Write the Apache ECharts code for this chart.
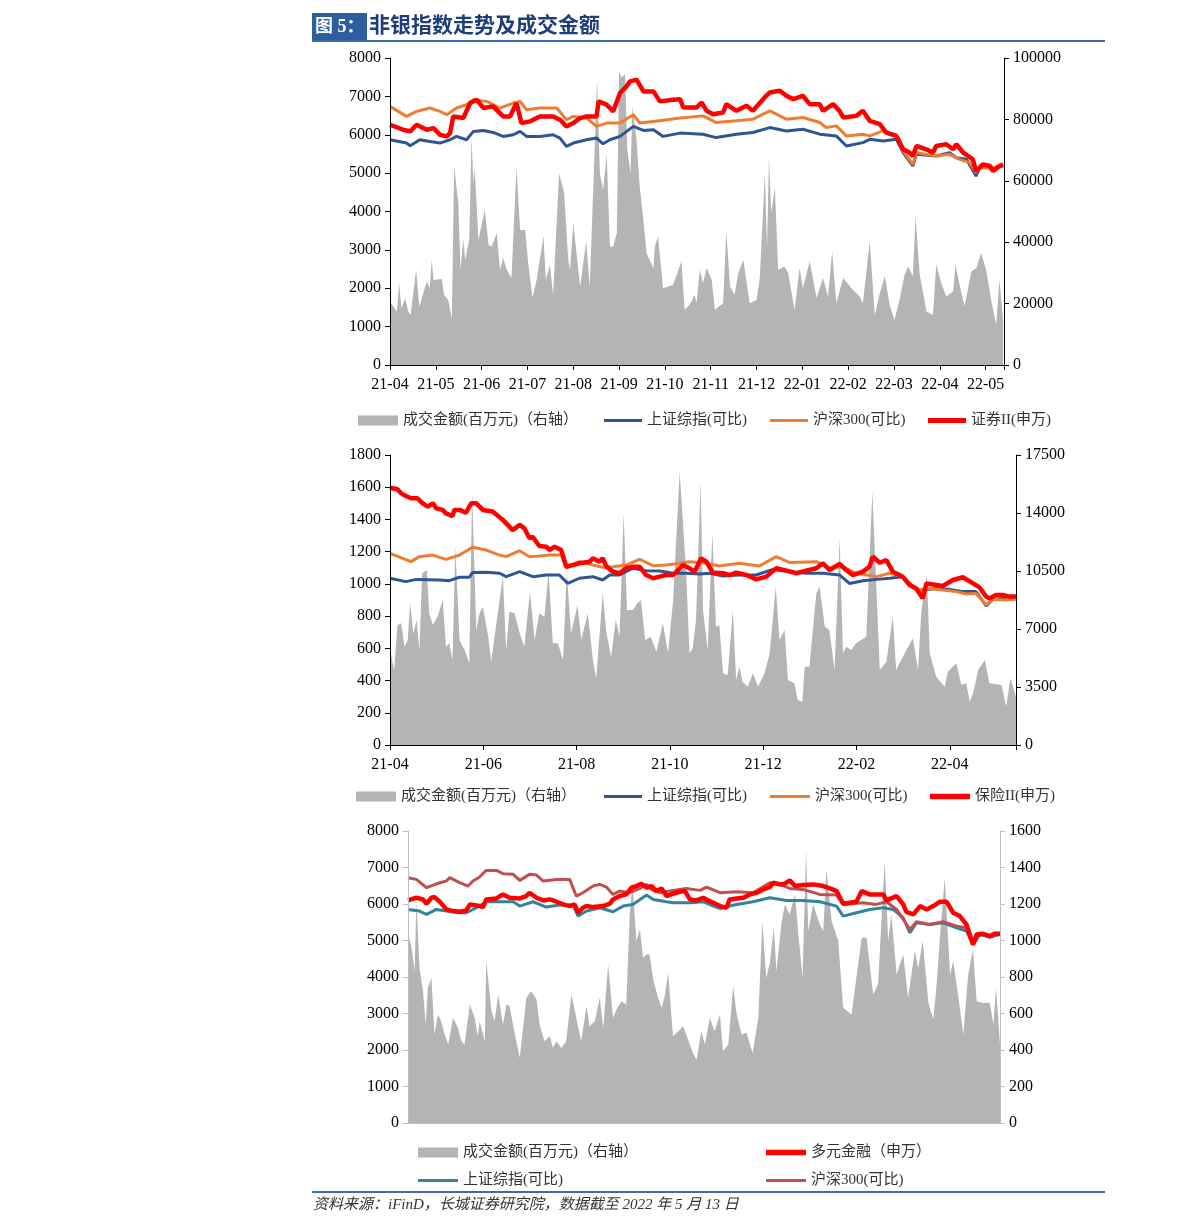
<!DOCTYPE html>
<html><head><meta charset="utf-8">
<script src="https://cdn.jsdelivr.net/npm/echarts@6/dist/echarts.min.js"></script>
<style>html,body{margin:0;padding:0;background:#fff}#c{width:1191px;height:1232px}</style>
</head><body><div id="c"></div>
<script>
// ---- tick labels (x = months since 2021-04-01) ----
const p1MonthLabels = ['21-04','21-05','21-06','21-07','21-08','21-09','21-10','21-11','21-12','22-01','22-02','22-03','22-04','22-05'];
const p2MonthLabels = ['21-04','21-06','21-08','21-10','21-12','22-02','22-04'];

// ---- Panel 1: 证券II ----
const p1Volume = [[0,20650],[0.15,17400],[0.2,26600],[0.25,18500],[0.33,21700],[0.4,17400],[0.45,16300],[0.57,31000],[0.64,19000],[0.8,27200],[0.87,25000],[0.91,34200],[0.95,27700],[1.13,28000],[1.18,22800],[1.27,21200],[1.35,15200],[1.4,64700],[1.49,52800],[1.54,31000],[1.6,41000],[1.64,34200],[1.73,40800],[1.78,74500],[1.82,59200],[1.85,64100],[1.93,40800],[2.07,50500],[2.15,39100],[2.22,38600],[2.33,42900],[2.4,31000],[2.47,34800],[2.55,31000],[2.65,28300],[2.76,64100],[2.84,44000],[2.95,44000],[3.02,32600],[3.11,22000],[3.2,27700],[3.35,42000],[3.4,27700],[3.49,32600],[3.56,22800],[3.69,62500],[3.8,56000],[3.89,34200],[3.93,31000],[4.0,46200],[4.09,33700],[4.15,25500],[4.28,40200],[4.36,25500],[4.52,92900],[4.58,62500],[4.65,57100],[4.73,68500],[4.8,38600],[4.87,38600],[4.95,42900],[5.0,95700],[5.05,93700],[5.13,94600],[5.18,70100],[5.25,62500],[5.29,84200],[5.38,73400],[5.45,58100],[5.53,47300],[5.6,36400],[5.75,31500],[5.78,38600],[5.85,41800],[5.89,41800],[5.96,25000],[6.18,26100],[6.36,33800],[6.43,18000],[6.54,19600],[6.65,22900],[6.69,20100],[6.76,31000],[6.83,26700],[6.91,31600],[7.02,27800],[7.09,18000],[7.27,20100],[7.34,43600],[7.42,25600],[7.52,22900],[7.6,29900],[7.71,34300],[7.85,20100],[8.0,21200],[8.07,28300],[8.18,62100],[8.23,38600],[8.27,67500],[8.32,49600],[8.4,57700],[8.47,31000],[8.61,32100],[8.69,30000],[8.83,18000],[8.94,31600],[9.01,25000],[9.16,33800],[9.31,21800],[9.45,28300],[9.56,22300],[9.65,37000],[9.74,20100],[9.89,28300],[10.07,25000],[10.25,22300],[10.32,20100],[10.47,40300],[10.58,16300],[10.69,23400],[10.8,28900],[10.91,19100],[11.01,14700],[11.12,21200],[11.23,29400],[11.31,32100],[11.41,28900],[11.47,48500],[11.56,29400],[11.71,17400],[11.85,16300],[11.92,32700],[12.03,26700],[12.14,22300],[12.29,24000],[12.34,32700],[12.43,26100],[12.54,19100],[12.69,30500],[12.8,31600],[12.9,36500],[13.01,31000],[13.12,21200],[13.23,13000],[13.3,27800],[13.38,14700]];
const p1SSE = [[0,5870],[0.36,5783],[0.44,5713],[0.65,5870],[0.87,5826],[1.09,5783],[1.31,5870],[1.45,5957],[1.67,5870],[1.82,6087],[2.04,6113],[2.25,6061],[2.47,5957],[2.69,6000],[2.84,6087],[2.98,5957],[3.27,5957],[3.56,6000],[3.71,5913],[3.85,5696],[4.0,5783],[4.29,5870],[4.51,5913],[4.65,5765],[4.8,5870],[5.02,5957],[5.31,6218],[5.53,6113],[5.75,6130],[5.96,5957],[6.33,6043],[6.83,6015],[7.12,5926],[7.56,6015],[7.92,6057],[8.29,6187],[8.65,6100],[9.01,6143],[9.38,6015],[9.74,5970],[9.96,5708],[10.32,5795],[10.47,5882],[10.76,5840],[11.05,5882],[11.2,5534],[11.41,5186],[11.49,5490],[11.92,5447],[12.21,5534],[12.36,5403],[12.58,5360],[12.79,4924],[12.87,5142],[13.16,5142],[13.38,5186]];
const p1CSI300 = [[0,6739],[0.36,6478],[0.58,6609],[0.87,6696],[1.09,6609],[1.24,6522],[1.45,6696],[1.67,6783],[1.82,6913],[2.11,6870],[2.4,6696],[2.69,6826],[2.84,6870],[2.98,6652],[3.27,6696],[3.64,6696],[3.85,6391],[4.0,6478],[4.29,6435],[4.51,6217],[4.73,6304],[5.02,6304],[5.31,6522],[5.45,6304],[5.75,6348],[6.04,6391],[6.33,6435],[6.83,6492],[7.12,6318],[7.56,6362],[7.92,6405],[8.29,6623],[8.65,6405],[9.01,6449],[9.38,6318],[9.52,6187],[9.74,6231],[9.96,5970],[10.32,6014],[10.47,5970],[10.76,6100],[11.05,5970],[11.2,5578],[11.41,5229],[11.49,5534],[11.92,5447],[12.21,5490],[12.43,5360],[12.65,5273],[12.79,5011],[12.87,5142],[13.16,5142],[13.38,5186]];
const p1Broker = [[0,6261],[0.29,6130],[0.44,6087],[0.58,6261],[0.8,6130],[0.95,6174],[1.09,6000],[1.24,5957],[1.31,6043],[1.38,6478],[1.6,6435],[1.75,6826],[1.89,6913],[2.04,6696],[2.25,6739],[2.47,6478],[2.62,6478],[2.76,6826],[2.87,6304],[3.05,6348],[3.27,6478],[3.56,6478],[3.71,6391],[3.85,6217],[4.0,6304],[4.15,6435],[4.29,6478],[4.51,6478],[4.55,6870],[4.73,6783],[4.87,6609],[5.02,7087],[5.16,7261],[5.24,7391],[5.38,7435],[5.53,7130],[5.75,7130],[5.89,6870],[6.18,6913],[6.33,6928],[6.4,6710],[6.69,6710],[6.8,6841],[6.91,6623],[7.05,6536],[7.27,6580],[7.34,6797],[7.56,6623],[7.78,6754],[7.92,6623],[8.21,7015],[8.29,7102],[8.51,7146],[8.65,7015],[8.8,6928],[9.01,7015],[9.16,6797],[9.38,6797],[9.45,6623],[9.67,6797],[9.81,6623],[9.89,6449],[10.18,6492],[10.32,6623],[10.47,6362],[10.69,6275],[10.83,6057],[11.05,5970],[11.2,5621],[11.34,5534],[11.41,5447],[11.49,5708],[11.7,5621],[11.85,5534],[11.92,5708],[12.14,5752],[12.29,5621],[12.36,5752],[12.51,5534],[12.72,5360],[12.79,5054],[12.94,5229],[13.09,5186],[13.16,5054],[13.3,5186],[13.38,5229]];

// ---- Panel 2: 保险II ----
const p2Volume = [[0,5731],[0.09,4525],[0.16,7240],[0.24,7340],[0.31,5932],[0.38,6335],[0.43,8547],[0.5,6737],[0.57,7541],[0.63,5731],[0.69,10357],[0.79,10558],[0.84,7943],[0.92,7240],[1.02,7742],[1.13,8748],[1.2,5932],[1.27,6134],[1.34,5128],[1.4,11965],[1.49,6335],[1.6,5731],[1.7,4927],[1.76,15284],[1.85,6938],[1.92,7943],[1.99,8346],[2.1,6636],[2.17,5028],[2.27,7139],[2.42,10156],[2.49,5731],[2.56,8044],[2.67,7943],[2.78,6737],[2.88,5932],[3.0,9251],[3.1,6335],[3.2,7943],[3.31,7742],[3.4,10457],[3.49,6134],[3.6,6134],[3.71,5128],[3.79,10457],[3.88,6737],[4.02,8446],[4.1,6335],[4.24,7943],[4.35,5128],[4.42,4022],[4.56,9150],[4.64,6737],[4.74,5329],[4.84,7541],[4.92,6536],[5.01,13976],[5.08,8145],[5.21,8145],[5.3,8547],[5.38,8748],[5.47,6335],[5.59,6536],[5.71,5631],[5.85,7340],[5.96,5530],[6.07,8748],[6.21,16490],[6.35,10357],[6.42,5530],[6.49,5832],[6.56,7541],[6.66,15887],[6.71,8145],[6.81,5731],[6.91,12770],[6.99,7139],[7.06,7240],[7.14,4324],[7.24,4223],[7.35,8145],[7.42,3921],[7.49,4726],[7.56,3821],[7.67,3519],[7.78,4324],[7.89,3519],[8.03,4324],[8.14,5530],[8.27,9552],[8.35,6335],[8.46,6938],[8.53,3921],[8.67,3720],[8.74,2715],[8.84,2614],[8.89,4726],[8.99,4726],[9.14,9150],[9.21,9552],[9.32,7139],[9.42,6938],[9.53,4525],[9.64,12468],[9.71,5530],[9.78,5932],[9.89,5731],[9.99,6134],[10.21,6536],[10.34,15284],[10.5,4525],[10.64,5028],[10.78,7783],[10.85,4525],[10.96,5128],[11.07,5731],[11.21,6435],[11.32,4525],[11.39,8044],[11.51,10256],[11.57,5530],[11.71,4123],[11.89,3519],[11.96,4424],[12.14,4927],[12.25,3620],[12.35,3720],[12.43,2614],[12.5,3117],[12.61,4525],[12.75,5128],[12.85,3720],[13.11,3620],[13.21,2313],[13.3,4022],[13.42,2916]];
const p2SSE = [[0,1035],[0.34,1014],[0.56,1028],[1.06,1024],[1.27,1020],[1.49,1041],[1.7,1041],[1.77,1070],[2.06,1072],[2.35,1066],[2.49,1045],[2.78,1076],[3.06,1045],[3.35,1055],[3.63,1055],[3.81,1003],[4.06,1035],[4.35,1045],[4.56,1024],[4.71,1055],[4.92,1055],[5.21,1097],[5.49,1082],[5.78,1080],[6.07,1066],[6.35,1066],[6.64,1062],[6.85,1066],[7.14,1049],[7.49,1055],[7.85,1055],[8.21,1090],[8.57,1076],[8.92,1066],[9.28,1066],[9.64,1055],[9.85,1003],[10.14,1020],[10.43,1028],[10.71,1035],[10.99,1045],[11.28,966],[11.42,962],[11.71,972],[11.99,966],[12.28,952],[12.56,952],[12.78,863],[12.92,904],[13.14,910],[13.42,910]];
const p2CSI300 = [[0,1190],[0.27,1159],[0.45,1138],[0.63,1169],[0.92,1179],[1.2,1152],[1.49,1179],[1.77,1227],[2.06,1210],[2.35,1179],[2.49,1169],[2.78,1206],[2.99,1169],[3.2,1173],[3.42,1179],[3.67,1179],[3.78,1097],[4.06,1138],[4.35,1117],[4.56,1103],[4.78,1107],[5.06,1117],[5.35,1152],[5.64,1113],[5.92,1117],[6.21,1128],[6.42,1138],[6.78,1128],[7.06,1111],[7.49,1128],[7.92,1111],[8.28,1169],[8.57,1132],[9.14,1138],[9.42,1097],[9.71,1107],[9.99,1066],[10.43,1045],[10.71,1066],[10.99,1045],[11.28,962],[11.57,972],[11.85,962],[12.14,952],[12.35,937],[12.56,941],[12.78,869],[12.92,904],[13.14,900],[13.42,904]];
const p2Insurance = [[0,1597],[0.16,1587],[0.24,1562],[0.34,1546],[0.45,1531],[0.59,1531],[0.7,1500],[0.81,1479],[0.92,1500],[0.99,1469],[1.13,1459],[1.2,1438],[1.34,1421],[1.38,1459],[1.49,1459],[1.63,1442],[1.74,1500],[1.85,1500],[1.99,1459],[2.2,1449],[2.42,1397],[2.63,1334],[2.78,1366],[2.88,1345],[2.99,1283],[3.06,1293],[3.2,1235],[3.35,1231],[3.42,1210],[3.53,1231],[3.67,1210],[3.78,1107],[3.92,1117],[4.06,1128],[4.28,1138],[4.35,1159],[4.49,1138],[4.56,1159],[4.64,1107],[4.78,1076],[4.92,1066],[5.06,1097],[5.21,1107],[5.35,1107],[5.49,1055],[5.64,1035],[5.78,1045],[5.92,1055],[6.07,1055],[6.28,1117],[6.42,1097],[6.53,1076],[6.67,1159],[6.78,1138],[6.92,1070],[7.14,1066],[7.28,1055],[7.42,1070],[7.64,1055],[7.85,1028],[8.07,1045],[8.28,1097],[8.5,1082],[8.71,1066],[8.92,1082],[9.14,1097],[9.28,1128],[9.42,1086],[9.64,1124],[9.78,1086],[9.92,1055],[10.14,1076],[10.28,1107],[10.35,1169],[10.5,1131],[10.64,1148],[10.78,1076],[10.99,1045],[11.14,993],[11.28,972],[11.42,910],[11.5,1003],[11.71,993],[11.85,987],[12.07,1024],[12.28,1041],[12.5,1003],[12.64,978],[12.78,921],[12.85,910],[12.99,931],[13.14,931],[13.28,921],[13.42,921]];

// ---- Panel 3: 多元金融 ----
const p3Volume = [[0,1042],[0.08,960],[0.15,832],[0.19,1216],[0.26,850],[0.34,722],[0.4,539],[0.45,741],[0.53,795],[0.6,485],[0.68,594],[0.75,558],[0.83,485],[0.91,430],[1.02,576],[1.13,521],[1.21,448],[1.28,430],[1.4,649],[1.51,576],[1.58,475],[1.62,558],[1.74,448],[1.77,887],[1.89,613],[1.96,558],[2.04,704],[2.15,539],[2.23,649],[2.3,640],[2.42,485],[2.53,357],[2.68,686],[2.79,722],[2.91,677],[2.98,539],[3.09,448],[3.21,475],[3.28,411],[3.36,448],[3.47,411],[3.58,448],[3.7,704],[3.81,576],[3.92,448],[4.04,640],[4.11,530],[4.23,558],[4.34,686],[4.42,521],[4.53,869],[4.64,576],[4.72,622],[4.83,667],[4.94,649],[5.02,1143],[5.08,1317],[5.17,997],[5.25,1061],[5.32,905],[5.4,923],[5.47,923],[5.55,786],[5.66,686],[5.74,631],[5.81,695],[5.89,823],[5.96,594],[6.0,475],[6.23,530],[6.38,430],[6.45,384],[6.53,347],[6.64,503],[6.72,430],[6.83,576],[6.94,503],[7.06,594],[7.13,393],[7.25,430],[7.36,750],[7.44,594],[7.55,485],[7.66,494],[7.8,384],[7.93,576],[8.02,1106],[8.11,795],[8.19,878],[8.28,1070],[8.34,832],[8.45,1088],[8.53,1198],[8.64,1143],[8.76,1253],[8.83,1051],[8.93,795],[9.01,1494],[9.06,1051],[9.17,1198],[9.32,1088],[9.4,1051],[9.47,1390],[9.59,1106],[9.74,997],[9.85,631],[10.04,594],[10.27,1015],[10.38,1015],[10.53,704],[10.64,759],[10.79,1435],[10.87,997],[10.94,1143],[11.06,814],[11.21,923],[11.32,686],[11.47,942],[11.55,850],[11.65,997],[11.78,658],[11.89,567],[11.96,741],[12.04,1015],[12.15,1344],[12.27,814],[12.34,887],[12.45,704],[12.57,485],[12.68,814],[12.79,951],[12.87,667],[13.02,658],[13.17,658],[13.25,539],[13.31,741],[13.4,430]];
const p3Diversified = [[0,6098],[0.19,6172],[0.34,6126],[0.42,6007],[0.53,6172],[0.6,6190],[0.72,6062],[0.87,5851],[1.02,5806],[1.17,5788],[1.32,5824],[1.4,5989],[1.62,5943],[1.7,5915],[1.77,6126],[2.0,6153],[2.15,6263],[2.3,6172],[2.53,6153],[2.68,6217],[2.75,6309],[2.91,6172],[3.06,6098],[3.21,6126],[3.36,6062],[3.51,5989],[3.66,5943],[3.77,5989],[3.85,5760],[3.96,5897],[4.04,5943],[4.19,5915],[4.42,5943],[4.57,6007],[4.64,6126],[4.79,6217],[4.94,6263],[5.06,6446],[5.17,6492],[5.28,6556],[5.4,6446],[5.51,6492],[5.62,6354],[5.74,6427],[5.85,6217],[6.0,6281],[6.15,6336],[6.27,6354],[6.38,6126],[6.53,6098],[6.68,6172],[6.79,6098],[6.91,6034],[7.06,5943],[7.21,5897],[7.28,6126],[7.44,6153],[7.59,6172],[7.74,6263],[7.89,6309],[8.04,6400],[8.19,6464],[8.27,6583],[8.42,6537],[8.53,6556],[8.64,6647],[8.76,6492],[8.94,6519],[9.17,6537],[9.4,6492],[9.55,6427],[9.7,6354],[9.85,6007],[10.15,6062],[10.27,6354],[10.45,6263],[10.76,6263],[10.83,6098],[11.06,6217],[11.21,5989],[11.28,5787],[11.44,5714],[11.59,5943],[11.74,5851],[11.89,5943],[12.04,6062],[12.19,6062],[12.34,5760],[12.49,5669],[12.64,5440],[12.79,4891],[12.87,5166],[13.02,5184],[13.17,5120],[13.28,5184],[13.4,5184]];
const p3SSE = [[0,5851],[0.26,5806],[0.42,5714],[0.64,5851],[0.87,5806],[1.17,5760],[1.32,5760],[1.55,5897],[1.77,6062],[2.08,6062],[2.38,6062],[2.53,5943],[2.83,6062],[3.13,5915],[3.43,5970],[3.74,5970],[3.85,5669],[4.04,5806],[4.34,5897],[4.64,5787],[4.87,5943],[5.09,5989],[5.4,6245],[5.55,6126],[5.85,6062],[6.0,6034],[6.38,6034],[6.68,6062],[6.91,5943],[7.06,5879],[7.44,5989],[7.81,6062],[8.19,6172],[8.57,6098],[8.94,6098],[9.32,6062],[9.7,5943],[9.85,5669],[10.15,5760],[10.45,5851],[10.76,5897],[10.98,5851],[11.21,5623],[11.36,5211],[11.51,5486],[11.81,5440],[12.11,5486],[12.42,5349],[12.64,5257],[12.79,4891],[12.95,5166],[13.17,5093],[13.4,5166]];
const p3CSI300 = [[0,6720],[0.19,6674],[0.42,6446],[0.57,6519],[0.72,6583],[0.87,6629],[0.94,6720],[1.17,6583],[1.36,6491],[1.47,6629],[1.62,6738],[1.77,6921],[2.0,6921],[2.15,6830],[2.38,6812],[2.53,6647],[2.75,6812],[2.91,6793],[3.06,6629],[3.36,6674],[3.66,6674],[3.81,6217],[3.96,6309],[4.19,6491],[4.34,6537],[4.49,6464],[4.64,6263],[4.79,6354],[5.02,6309],[5.25,6427],[5.4,6537],[5.51,6400],[5.7,6309],[6.0,6373],[6.3,6427],[6.61,6373],[6.76,6464],[7.06,6309],[7.44,6336],[7.81,6309],[8.19,6583],[8.42,6537],[8.64,6427],[8.94,6400],[9.32,6263],[9.7,6245],[9.85,5989],[10.3,6034],[10.6,5989],[10.83,6062],[11.06,5851],[11.21,5577],[11.36,5303],[11.51,5513],[11.81,5440],[12.11,5513],[12.42,5394],[12.64,5349],[12.79,4937],[12.95,5211],[13.17,5093],[13.4,5211]];

// ---- chart ----
const FONT = '"Liberation Serif","Times New Roman","Noto Sans CJK SC",serif';
const LFONT = '"Liberation Serif","Noto Sans CJK SC",serif';
const GRAY = '#B4B4B4';
const ICON_THIN = 'path://M0,0H38V3H0Z';
const ICON_THICK = 'path://M0,0H38V5H0Z';

function xLab(labels, step) {
  return function (v) { const k = v / step; const i = Math.round(k); return Math.abs(k - i) < 1e-6 ? (labels[i] || '') : ''; };
}
function xAx(grid, max, interval, labels, color, showLabel) {
  return {
    gridIndex: grid, type: 'value', min: 0, max: max, interval: interval, z: 5,
    axisLine: { show: true, onZero: false, lineStyle: { color: color, width: 1 } },
    axisTick: { show: showLabel, length: 5, lineStyle: { color: color } },
    axisLabel: { show: showLabel, formatter: labels ? xLab(labels, interval) : '', fontSize: 16, fontFamily: FONT, color: '#000', margin: 12 },
    splitLine: { show: false }
  };
}
function yAx(grid, pos, max, interval, color, margin) {
  return {
    gridIndex: grid, type: 'value', position: pos, min: 0, max: max, interval: interval, z: 5,
    axisLine: { show: true, lineStyle: { color: color, width: 1 } },
    axisTick: { show: true, length: 5, lineStyle: { color: color } },
    axisLabel: { fontSize: 16, fontFamily: FONT, color: '#000', margin: margin, formatter: function (v) { return String(v); } },
    splitLine: { show: false }
  };
}
function area(name, xi, yi, data) {
  return { name: name, type: 'line', xAxisIndex: xi, yAxisIndex: yi, data: data, symbol: 'none', color: GRAY,
    lineStyle: { width: 0, color: GRAY }, areaStyle: { color: GRAY, opacity: 1 }, z: 1, silent: true };
}
function line(name, xi, yi, data, color, width) {
  return { name: name, type: 'line', xAxisIndex: xi, yAxisIndex: yi, data: data, symbol: 'none', color: color,
    lineStyle: { width: width, color: color }, z: 3, silent: true };
}
function leg(name, left, y, w, icon) {
  return {
    data: [{ name: name, icon: icon }], left: left, top: y - 5, padding: 0,
    itemWidth: w, itemHeight: 10, itemGap: 0, selectedMode: false, symbolKeepAspect: icon !== 'rect' ? true : false,
    formatter: function (n) { return n.split('#')[0]; },
    textStyle: { fontSize: 15, fontFamily: LFONT, color: '#333', padding: [0, 0, 0, 0] }
  };
}

const BLUE = '#2F5597', ORANGE = '#ED7D31', RED = '#FF0000', TEAL = '#31849B', BROWN = '#C0504D';
const VOL = '成交金额(百万元)（右轴）';

const option = {
  animation: false,
  backgroundColor: '#fff',
  grid: [
    { left: 390, top: 58, width: 614, height: 307 },
    { left: 390, top: 455, width: 626, height: 290 },
    { left: 408, top: 831, width: 592, height: 292 }
  ],
  xAxis: [
    xAx(0, 13.4, 1, p1MonthLabels, '#000', true),
    xAx(1, 13.42, 2, p2MonthLabels, '#000', true),
    xAx(2, 13.4, 1, null, '#BFBFBF', false)
  ],
  yAxis: [
    yAx(0, 'left', 8000, 1000, '#000', 9),
    yAx(0, 'right', 100000, 20000, '#000', 9),
    yAx(1, 'left', 1800, 200, '#000', 9),
    yAx(1, 'right', 17500, 3500, '#000', 9),
    yAx(2, 'left', 8000, 1000, '#BFBFBF', 9),
    yAx(2, 'right', 1600, 200, '#BFBFBF', 9)
  ],
  series: [
    area(VOL + '#1', 0, 1, p1Volume),
    line('上证综指(可比)#1', 0, 0, p1SSE, BLUE, 3),
    line('沪深300(可比)#1', 0, 0, p1CSI300, ORANGE, 3),
    line('证券II(申万)#1', 0, 0, p1Broker, RED, 4.5),
    area(VOL + '#2', 1, 3, p2Volume),
    line('上证综指(可比)#2', 1, 2, p2SSE, BLUE, 3),
    line('沪深300(可比)#2', 1, 2, p2CSI300, ORANGE, 3),
    line('保险II(申万)#2', 1, 2, p2Insurance, RED, 4.5),
    area(VOL + '#3', 2, 5, p3Volume),
    line('上证综指(可比)#3', 2, 4, p3SSE, TEAL, 3),
    line('沪深300(可比)#3', 2, 4, p3CSI300, BROWN, 3),
    line('多元金融（申万）#3', 2, 4, p3Diversified, RED, 4.5)
  ],
  legend: [
    leg(VOL + '#1', 358, 418, 40, 'rect'),
    leg('上证综指(可比)#1', 604, 418, 38, ICON_THIN),
    leg('沪深300(可比)#1', 770, 418, 38, ICON_THIN),
    leg('证券II(申万)#1', 928, 418, 38, ICON_THICK),
    leg(VOL + '#2', 356, 794, 40, 'rect'),
    leg('上证综指(可比)#2', 604, 794, 38, ICON_THIN),
    leg('沪深300(可比)#2', 770, 794, 40, ICON_THIN),
    leg('保险II(申万)#2', 930, 794, 40, ICON_THICK),
    leg(VOL + '#3', 418, 1150, 40, 'rect'),
    leg('多元金融（申万）#3', 766, 1150, 40, ICON_THICK),
    leg('上证综指(可比)#3', 418, 1178, 40, ICON_THIN),
    leg('沪深300(可比)#3', 766, 1178, 40, ICON_THIN)
  ],
  graphic: [
    { type: 'rect', shape: { x: 312, y: 13, width: 55, height: 27 }, style: { fill: '#2F5E9F' } },
    { type: 'text', x: 315, y: 27, style: { text: '图 5：', fill: '#fff', fontSize: 18, fontWeight: 'bold', fontFamily: LFONT, verticalAlign: 'middle' } },
    { type: 'text', x: 369, y: 27, style: { text: '非银指数走势及成交金额', fill: '#1F3D7A', fontSize: 21, fontWeight: 'bold', fontFamily: LFONT, verticalAlign: 'middle' } },
    { type: 'line', shape: { x1: 312, y1: 41, x2: 1105, y2: 41 }, style: { stroke: '#3A6BAE', lineWidth: 2 } },
    { type: 'line', shape: { x1: 312, y1: 1192, x2: 1105, y2: 1192 }, style: { stroke: '#3A6BAE', lineWidth: 2 } },
    { type: 'text', x: 313, y: 1205, style: { text: '资料来源：iFinD，长城证券研究院，数据截至 2022 年 5 月 13 日', fill: '#333', fontSize: 15, fontStyle: 'italic', fontFamily: LFONT, verticalAlign: 'middle' } }
  ]
};

const chart = echarts.init(document.getElementById('c'), null, { renderer: 'canvas', width: 1191, height: 1232 });
chart.setOption(option);
</script></body></html>
